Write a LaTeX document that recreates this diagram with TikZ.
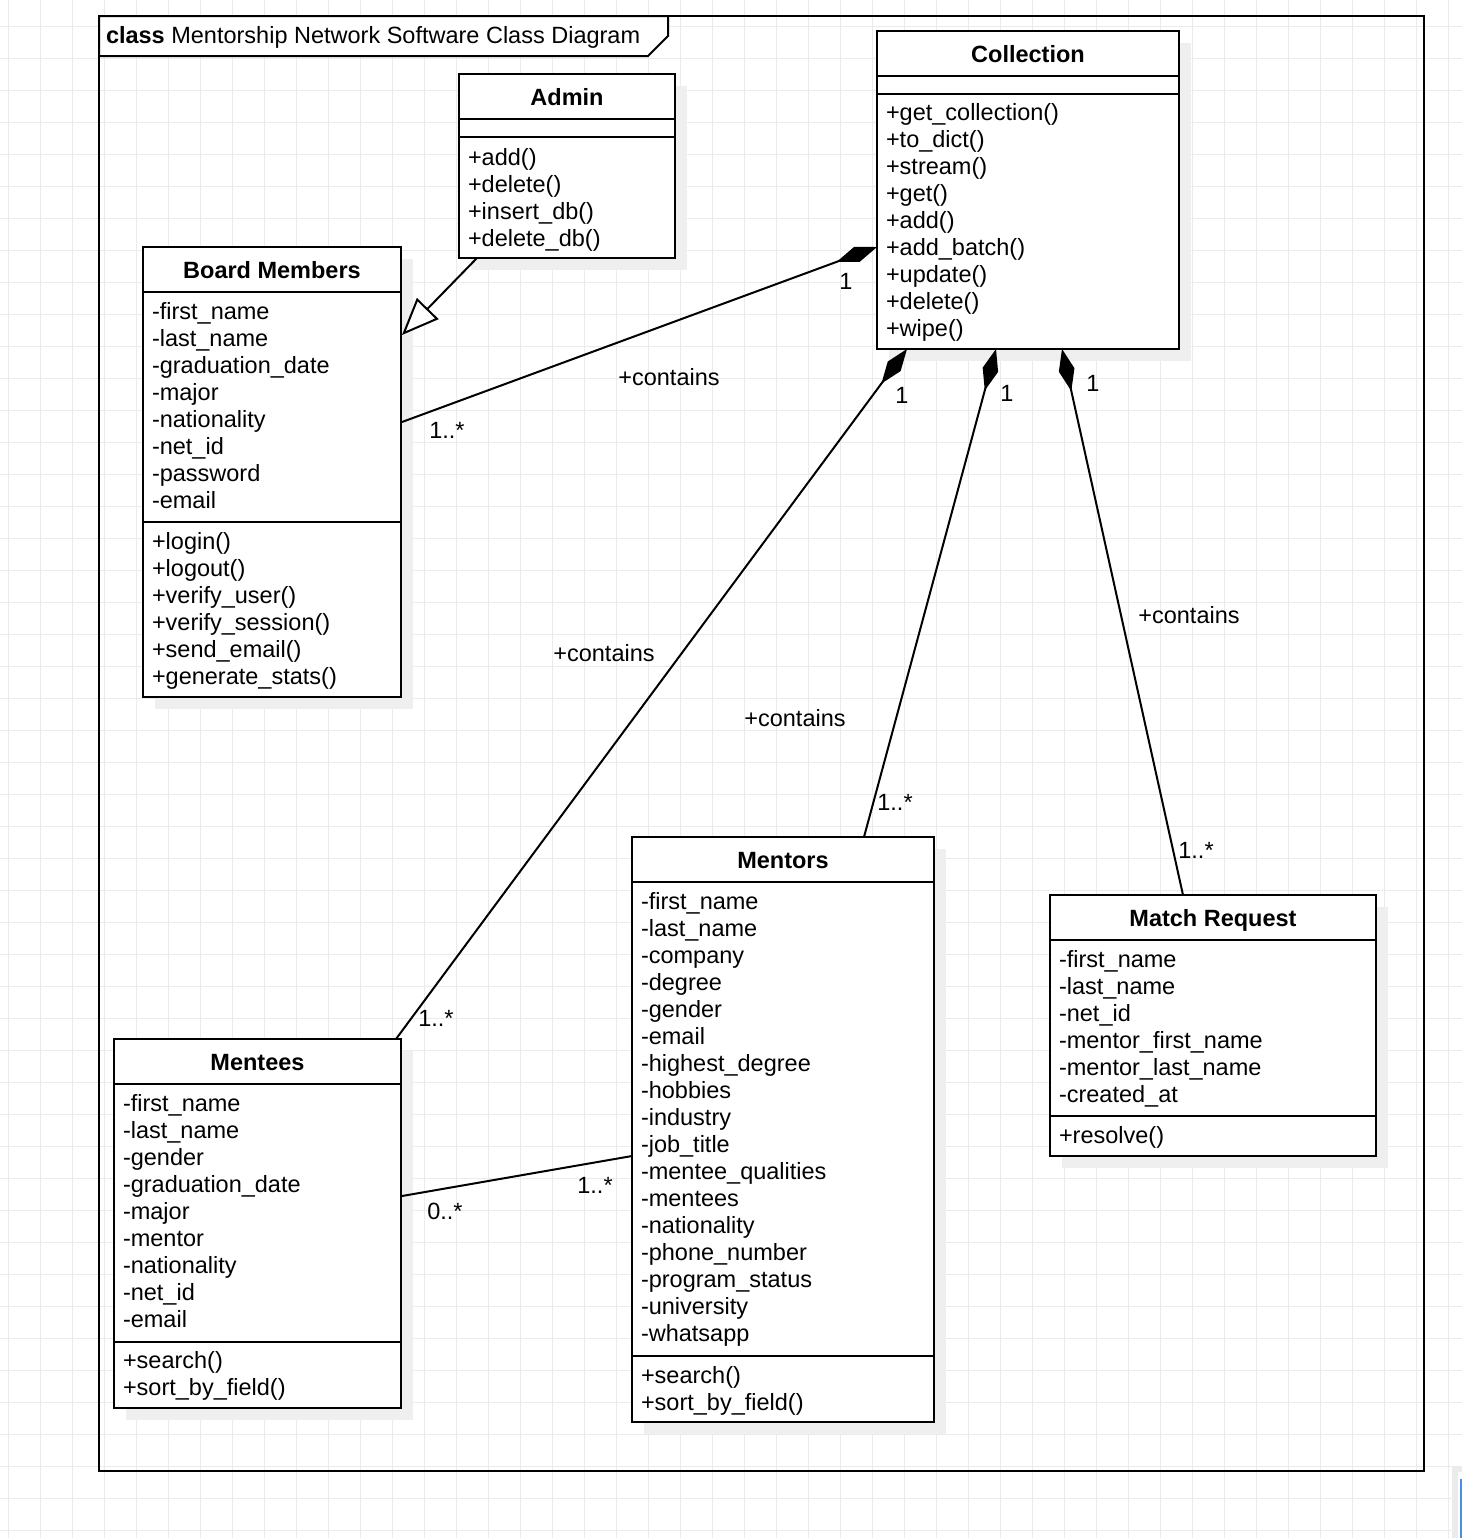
\documentclass[tikz,border=0pt]{standalone}
\usepackage{fontspec}
\setmainfont{Liberation Sans}
\usetikzlibrary{arrows.meta,calc}
\definecolor{gridgray}{HTML}{EBEBEB}
\definecolor{shadowgray}{HTML}{EFEFEF}
\definecolor{selblue}{HTML}{4A90E2}

% class box: name, title, x1, y1, x2, y2, header bottom, attribute bottom
\newcommand\umlclass[8]{%
  \fill[shadowgray] ({#3+12},{#4+12}) rectangle ({#5+12},{#6+12});
  \node[classbox, minimum width={(#5-#3)*0.5pt}, minimum height={(#6-#4)*0.5pt}]
    (#1) at ({(#3+#5)/2},{(#4+#6)/2}) {};
  \draw[line width=1pt] (#3,#7) -- (#5,#7) (#3,#8) -- (#5,#8);
  \node[hdr] (#1-name) at ({(#3+#5)/2},{(#4+#7)/2+8.5}) {#2};
}
% list of members: prefix, x, first baseline, items
\newcommand\umlmembers[4]{%
  \foreach \t [count=\i from 0] in {#4} {
    \node[txt] (#1-\i) at (#2,{#3+27*\i}) {\t};
  }
}

\begin{document}
\begin{tikzpicture}[x=0.5pt,y=-0.5pt,
  every node/.style={inner sep=0pt, outer sep=0pt},
  txt/.style={font=\fontsize{11.75pt}{13.5pt}\selectfont, anchor=base west},
  hdr/.style={font=\fontsize{11.75pt}{13.5pt}\selectfont\bfseries, anchor=base},
  lbl/.style={font=\fontsize{11.75pt}{13.5pt}\selectfont, anchor=base},
  classbox/.style={draw=black, line width=1pt, fill=white, rectangle},
  link/.style={draw=black, line width=1pt},
  comp/.style={link, {Diamond[length=21.5pt,width=8pt]}-},
  gen/.style={link, -{Triangle[open,length=18.5pt,width=15pt,fill=white]}}
]
\useasboundingbox (0,0) rectangle (1462,1538);
\fill[white] (0,0) rectangle (1462,1538);

% background grid
\foreach \k in {0,...,45} \draw[gridgray, line width=0.5pt] ({8.3+32*\k},0) -- ({8.3+32*\k},1538);
\foreach \k in {0,...,47} \draw[gridgray, line width=0.5pt] (0,{26.7+32*\k}) -- (1462,{26.7+32*\k});

% diagram frame with title tab
\draw[line width=1.1pt] (99,16) rectangle (1424,1471);
\filldraw[fill=white, line width=1pt] (99,16) -- (668,16) -- (668,36) -- (648,56) -- (99,56) -- cycle;
\node[txt] (title) at (106,43.5) {\textbf{class} Mentorship Network Software Class Diagram};

% classes
\umlclass{admin}{Admin}{459}{74}{675}{258}{119}{137}
\umlmembers{admin-m}{468}{165}{+add(),+delete(),+insert\_db(),+delete\_db()}

\umlclass{coll}{Collection}{877}{31}{1179}{349}{76}{94}
\umlmembers{coll-m}{886}{120}{+get\_collection(),+to\_dict(),+stream(),+get(),+add(),+add\_batch(),+update(),+delete(),+wipe()}

\umlclass{bm}{Board Members}{143}{247}{401}{697}{292}{522}
\umlmembers{bm-a}{152}{319}{-first\_name,-last\_name,-graduation\_date,-major,-nationality,-net\_id,-password,-email}
\umlmembers{bm-m}{152}{549}{+login(),+logout(),+verify\_user(),+verify\_session(),+send\_email(),+generate\_stats()}

\umlclass{mentees}{Mentees}{114}{1039}{401}{1408}{1084}{1342}
\umlmembers{mentees-a}{123}{1111}{-first\_name,-last\_name,-gender,-graduation\_date,-major,-mentor,-nationality,-net\_id,-email}
\umlmembers{mentees-m}{123}{1368}{+search(),+sort\_by\_field()}

\umlclass{mentors}{Mentors}{632}{837}{934}{1422}{882}{1356}
\umlmembers{mentors-a}{641}{909}{-first\_name,-last\_name,-company,-degree,-gender,-email,-highest\_degree,-hobbies,-industry,-job\_title,-mentee\_qualities,-mentees,-nationality,-phone\_number,-program\_status,-university,-whatsapp}
\umlmembers{mentors-m}{641}{1383}{+search(),+sort\_by\_field()}

\umlclass{mr}{Match Request}{1050}{895}{1376}{1156}{940}{1116}
\umlmembers{mr-a}{1059}{967}{-first\_name,-last\_name,-net\_id,-mentor\_first\_name,-mentor\_last\_name,-created\_at}
\umlmembers{mr-m}{1059}{1143}{+resolve()}

% relations
\draw[gen] ($(admin.south west)+(18,0)$) -- ($(bm.north east)+(1,88)$);
\draw[comp] ($(coll.north west)+(0,216)$) -- ($(bm.north east)+(1,175)$);
\draw[comp] ($(coll.south west)+(30,0)$) -- ($(mentees.north east)+(-5,0)$);
\draw[comp] ($(coll.south west)+(119,0)$) -- ($(mentors.north west)+(232,0)$);
\draw[comp] ($(coll.south west)+(185,0)$) -- ($(mr.north west)+(133,0)$);
\draw[link] ($(mentees.north east)+(1,157)$) -- ($(mentors.north west)+(0,319)$);

% multiplicities and role names
\node[lbl] (l1) at (846,289) {1};
\node[lbl] (l2) at (669,385) {+contains};
\node[lbl] (l3) at (447,438) {1..*};
\node[lbl] (l4) at (902,403) {1};
\node[lbl] (l5) at (1007,401) {1};
\node[lbl] (l6) at (1093,391) {1};
\node[lbl] (l7) at (604,661) {+contains};
\node[lbl] (l8) at (795,726) {+contains};
\node[lbl] (l9) at (1189,623) {+contains};
\node[lbl] (l10) at (895,810) {1..*};
\node[lbl] (l11) at (1196,858) {1..*};
\node[lbl] (l12) at (436,1026) {1..*};
\node[lbl] (l13) at (445,1219) {0..*};
\node[lbl] (l14) at (595,1193) {1..*};

% panel edge in the corner
\fill[shadowgray!70!gray!40] (1452,1466) rectangle (1462,1538);
\fill[white] (1458,1472) rectangle (1462,1538);
\fill[selblue] (1460,1479) rectangle (1462,1538);
\end{tikzpicture}
\end{document}
